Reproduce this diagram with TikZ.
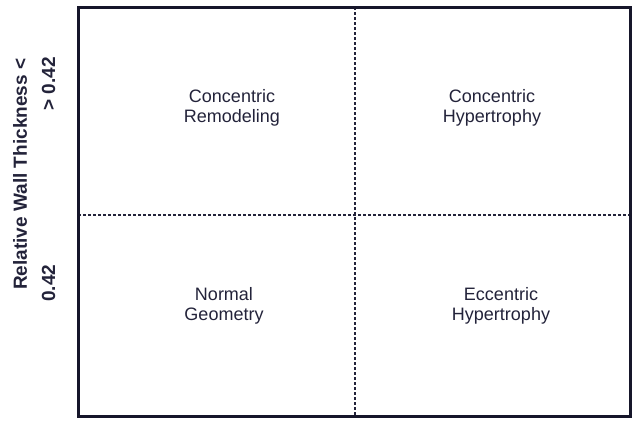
\documentclass[tikz,border=0pt]{standalone}
\usepackage{fontspec}
\setmainfont{Liberation Sans}
\definecolor{ink}{HTML}{23233A}
\definecolor{frame}{HTML}{16162A}
\begin{document}
\begin{tikzpicture}[x=1pt,y=-1pt,
  quad/.style={align=center,inner sep=0pt,anchor=north,text=ink,
    font=\fontsize{18}{20}\selectfont},
  axislab/.style={rotate=90,inner sep=0pt,text=ink,
    font=\fontsize{19}{22}\selectfont\bfseries},
  divider/.style={draw=ink,line width=1.4pt,dash pattern=on 3pt off 2pt}]
\useasboundingbox (0,0) rectangle (632,424);
\coordinate (tl) at (78,7);
\coordinate (br) at (630,416);
\coordinate (vtop) at (355,7);
\coordinate (vbot) at (355,416);
\coordinate (hl) at (78,215);
\coordinate (hr) at (630,215);
\draw[divider] (vtop) -- (vbot);
\draw[divider] (hl) -- (hr);
\draw[frame,line width=3pt] (tl) rectangle (br);
\node[quad] (cr) at (232,89) {Concentric\\Remodeling};
\node[quad] (ch) at (492,89) {Concentric\\Hypertrophy};
\node[quad] (ng) at (224,287) {Normal\\Geometry};
\node[quad] (eh) at (501,287) {Eccentric\\Hypertrophy};
\node[axislab,anchor=base west] (rwt) at (27,290) {Relative Wall Thickness <};
\node[axislab,anchor=base west] (lo) at (55,302) {0.42};
\node[axislab,anchor=base east] (hi) at (55,57) {> 0.42};
\end{tikzpicture}
\end{document}
